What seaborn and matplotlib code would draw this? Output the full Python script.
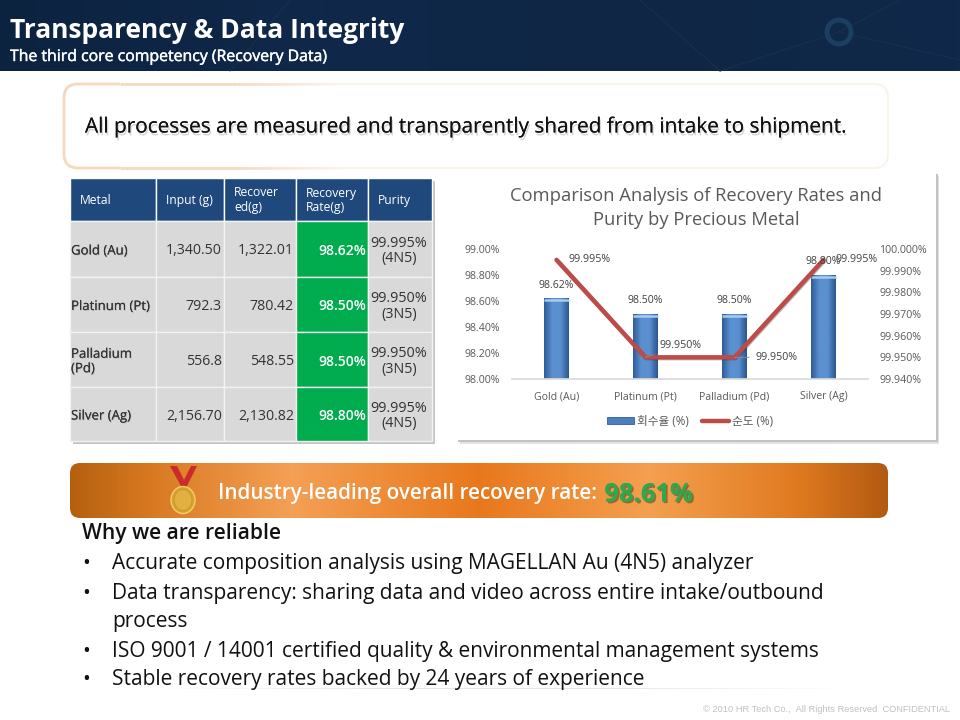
import numpy as np
import matplotlib
matplotlib.use('Agg')
import matplotlib.pyplot as plt
import matplotlib.patheffects as pe
from matplotlib.colors import LinearSegmentedColormap
from matplotlib.lines import Line2D
from matplotlib.patches import Circle, Ellipse, FancyBboxPatch, Patch, Polygon, Rectangle
from matplotlib.ticker import FormatStrFormatter
import seaborn as sns

# chart data
metals = ['Gold (Au)', 'Platinum (Pt)', 'Palladium (Pd)', 'Silver (Ag)']
recovery_rate = [98.62, 98.50, 98.50, 98.80]
purity = [99.995, 99.950, 99.950, 99.995]
rate_ticks = [98.0, 98.2, 98.4, 98.6, 98.8, 99.0]
purity_ticks = [99.94, 99.95, 99.96, 99.97, 99.98, 99.99, 100.0]
legend_labels = ['회수율 (%)', '순도 (%)']
chart_title = 'Comparison Analysis of Recovery Rates and\nPurity by Precious Metal'

# table data
table_header = ['Metal', 'Input (g)', 'Recover\ned(g)', 'Recovery\nRate(g)', 'Purity']
table_metals = ['Gold (Au)', 'Platinum (Pt)', 'Palladium\n(Pd)', 'Silver (Ag)']
table_input = ['1,340.50', '792.3', '556.8', '2,156.70']
table_recovered = ['1,322.01', '780.42', '548.55', '2,130.82']
table_rate = ['98.62%', '98.50%', '98.50%', '98.80%']
table_purity = ['99.995%\n(4N5)', '99.950%\n(3N5)', '99.950%\n(3N5)', '99.995%\n(4N5)']

# slide text
slide_title = 'Transparency & Data Integrity'
slide_subtitle = 'The third core competency (Recovery Data)'
callout = 'All processes are measured and transparently shared from intake to shipment.'
banner_text = 'Industry-leading overall recovery rate: '
banner_value = '98.61%'
reasons_title = 'Why we are reliable'
reasons = [
    'Accurate composition analysis using MAGELLAN Au (4N5) analyzer',
    'Data transparency: sharing data and video across entire intake/outbound\nprocess',
    'ISO 9001 / 14001 certified quality & environmental management systems',
    'Stable recovery rates backed by 24 years of experience',
]
footer = '© 2010 HR Tech Co.,  All Rights Reserved  CONFIDENTIAL'

sns.set_theme(style='white')
plt.rcParams['font.family'] = ['Open Sans', 'Noto Sans CJK KR', 'DejaVu Sans']

fig = plt.figure(figsize=(9.6, 7.2), dpi=100)

# whole slide is drawn on an axes that counts in pixels
bg = fig.add_axes([0, 0, 1, 1], zorder=0)
bg.set_xlim(0, 960)
bg.set_ylim(720, 0)
bg.axis('off')


def gradient(colors, extent, clip=None, zorder=1):
    cmap = LinearSegmentedColormap.from_list('g', colors)
    g = np.linspace(0, 1, 512).reshape(1, -1)
    im = bg.imshow(g, cmap=cmap, extent=extent, aspect='auto', zorder=zorder)
    if clip is not None:
        im.set_clip_path(clip)
    return im


# header band
gradient(['#0c2340', '#10284a', '#0f2744', '#10294a'], (0, 960, 71, 0))
bg.add_patch(Circle((839, 32), 12, fill=False, ec='#1b3f60', lw=3.5, zorder=2))
for x0, y0, x1, y1 in [(640, 0, 720, 71), (720, 71, 839, 32), (839, 32, 900, 0), (839, 32, 960, 60), (230, 71, 290, 0)]:
    bg.plot([x0, x1], [y0, y1], color='#17304f', lw=0.8, zorder=1.5)
bg.text(10, 30, slide_title, color='white', fontsize=19, fontweight='bold', va='center', zorder=3)
bg.text(10, 57, slide_subtitle, color='white', fontsize=11.4, va='center', zorder=3,
        path_effects=[pe.Stroke(linewidth=0.3, foreground='white'), pe.Normal()])

# callout box, the orange edge fades out towards the middle
bg.add_patch(FancyBboxPatch((64, 84), 824, 84, boxstyle='round,pad=0,rounding_size=14',
                            fc='white', ec='#fbf4ec', lw=1.5, zorder=1))
edge = FancyBboxPatch((64, 84), 824, 84, boxstyle='round,pad=0,rounding_size=14',
                      fc='none', ec='#f6d8bd', lw=2, zorder=2)
bg.add_patch(edge)
edge.set_clip_path(Rectangle((60, 80), 60, 95, transform=bg.transData))
for x in range(120, 340, 4):
    fade = min(1, 1 - (x - 230) / 110)
    for y in (84, 168):
        bg.plot([x, x + 4], [y, y], color='#f6d8bd', alpha=fade, lw=2, solid_capstyle='butt', zorder=2)
bg.text(85, 127, callout, color='#111111', fontsize=14.95, va='center', zorder=3,
        path_effects=[pe.withSimplePatchShadow(offset=(1, -2), shadow_rgbFace='#999999', alpha=0.4), pe.Normal()])

# table
col_edges = [70, 156, 224, 296, 368, 432]
row_edges = [178, 221, 277, 332, 387, 441]
bg.add_patch(Rectangle((73, 181), 362, 263, fc='#c4c4c4', ec='none', zorder=1))
rows = list(zip(table_metals, table_input, table_recovered, table_rate, table_purity))
for c in range(5):
    x0, x1 = col_edges[c], col_edges[c + 1]
    bg.add_patch(Rectangle((x0, row_edges[0]), x1 - x0, row_edges[1] - row_edges[0],
                           fc='#1f497d', ec='white', lw=1, zorder=2))
    bg.text(x0 + 10, (row_edges[0] + row_edges[1]) / 2 + 1, table_header[c], color='white',
            fontsize=8.7, va='center', ha='left', linespacing=1.2, zorder=3)
    for r, row in enumerate(rows):
        y0, y1 = row_edges[r + 1], row_edges[r + 2]
        bg.add_patch(Rectangle((x0, y0), x1 - x0, y1 - y0, fc='#00ac4e' if c == 3 else '#d9d9d9',
                               ec='#f2f2f2', lw=1, zorder=2))
        ym = (y0 + y1) / 2 + 2
        if c == 0:
            bg.text(x0 + 1, ym, row[c], color='#333333', fontsize=9.5, va='center', ha='left', zorder=3,
                    linespacing=1.15,
                    path_effects=[pe.withSimplePatchShadow(offset=(0.6, -0.6), shadow_rgbFace='#999999', alpha=0.4), pe.Normal()])
        elif c == 4:
            bg.text((x0 + x1) / 2 - 1, ym, row[c], color='#333333', fontsize=10.4, va='center', ha='center',
                    linespacing=1.05, zorder=3)
        else:
            bg.text(x1 - 2, ym, row[c], color='white' if c == 3 else '#333333',
                    fontsize=10 if c == 3 else 10.2,
                    fontweight='semibold' if c == 3 else 'normal', va='center', ha='right', zorder=3)

# chart panel with a soft shadow
bg.add_patch(Rectangle((460, 176), 479, 268, fc='#e2e2e2', ec='none', zorder=1))
bg.add_patch(Rectangle((458, 174), 480, 268, fc='#c2c2c2', ec='none', zorder=1.2))
bg.add_patch(Rectangle((456, 172), 480, 268, fc='white', ec='none', zorder=2))

ax = fig.add_axes([512 / 960, 1 - 379 / 720, 356 / 960, 130 / 720], zorder=2)
ax.patch.set_alpha(0)
sns.barplot(x=metals, y=recovery_rate, ax=ax, color='#4a7fc0', width=0.28, saturation=1)
bar_cmap = LinearSegmentedColormap.from_list('bar', ['#2f5c97', '#5b90d0', '#5b90d0', '#2a568f'])
for bar in ax.patches:
    x, w, h = bar.get_x(), bar.get_width(), bar.get_height()
    ax.imshow(np.linspace(0, 1, 64).reshape(1, -1), cmap=bar_cmap, aspect='auto', zorder=2,
              extent=(x, x + w, rate_ticks[0], h))
    ax.plot([x, x + w], [h - 0.012, h - 0.012], color='#a6cbf0', lw=1.8, zorder=2.2, solid_capstyle='butt')
ax.set_xlim(-0.5, 3.5)
ax.set_ylim(rate_ticks[0], rate_ticks[-1])

ax.set_yticks(rate_ticks)
ax.yaxis.set_major_formatter(FormatStrFormatter('%.2f%%'))
ax.tick_params(axis='both', labelsize=7.6, labelcolor='#595959', length=0)
ax.tick_params(axis='y', pad=8.5)
ax.tick_params(axis='x', pad=9)
for s in ['top', 'left', 'right']:
    ax.spines[s].set_visible(False)
ax.spines['bottom'].set_color('#d9d9d9')
ax.set_title(chart_title, x=0.517, y=1.0, pad=17, fontsize=13.2, color='#595959', linespacing=1.48)

ax2 = ax.twinx()
ax2.patch.set_alpha(0)
sns.lineplot(x=metals, y=purity, ax=ax2, color='#be4b48', lw=3.2, sort=False, errorbar=None,
             path_effects=[pe.SimpleLineShadow(offset=(0.6, -0.6), alpha=0.3), pe.Normal()])
ax2.set_ylim(purity_ticks[0], purity_ticks[-1])
ax2.set_yticks(purity_ticks)
ax2.yaxis.set_major_formatter(FormatStrFormatter('%.3f%%'))
ax2.tick_params(axis='y', labelsize=7.7, labelcolor='#595959', length=0, pad=8)
ax2.set_ylabel('')
for s in ['top', 'left', 'right', 'bottom']:
    ax2.spines[s].set_visible(False)

# value labels, offsets in points from the marks
for i, v in enumerate(recovery_rate):
    ax2.annotate(f'{v:.2f}%', xy=(i, ax2.transData.inverted().transform(ax.transData.transform((i, v)))[1]),
                 xytext=(0, 9.5), textcoords='offset points', ha='center', va='center',
                 fontsize=7.6, color='#404040', zorder=5)
purity_offsets = [(24, 0), (25, 8.5), (30, 0), (24, 0)]
for i, v in enumerate(purity):
    leader = i in (1, 2)
    ax2.annotate(f'{v:.3f}%', xy=(i, v), xytext=purity_offsets[i], textcoords='offset points',
                 ha='center', va='center', fontsize=7.7, color='#404040', zorder=5,
                 arrowprops=dict(arrowstyle='-', color='#8c8c8c', lw=0.7, shrinkA=2, shrinkB=0) if leader else None)

handles = [Patch(fc='#4a7fc0', ec='#2f5c97', lw=0.6),
           Line2D([0], [0], color='#be4b48', lw=3.2)]
leg = ax2.legend(handles, legend_labels, loc='center', bbox_to_anchor=(0.5, -0.325), ncol=2, frameon=False,
                 fontsize=8.4, handlelength=2.3, handleheight=0.5, columnspacing=1.1, handletextpad=0.25)
for t in leg.get_texts():
    t.set_color('#595959')

# orange banner
banner = FancyBboxPatch((70, 463), 818, 55, boxstyle='round,pad=0,rounding_size=10', fc='none', ec='none',
                        transform=bg.transData, zorder=1)
bg.add_patch(banner)
gradient([(0, '#b5600f'), (0.1, '#d97a22'), (0.27, '#f4a055'), (0.5, '#e8781c'), (0.71, '#f4a050'),
          (0.89, '#e07a20'), (1, '#b25a12')], (70, 888, 518, 463), clip=banner, zorder=2)
bg.add_patch(Polygon([(170, 466), (177, 466), (184, 480), (191, 466), (197, 466), (186, 488), (182, 488)],
                     fc='#cc2b2b', ec='none', zorder=3))
bg.add_patch(Ellipse((183, 500), 24, 27, fc='#d9a32e', ec='#f1cf6a', lw=1, zorder=4))
bg.add_patch(Ellipse((183, 500), 18, 21, fc='#e2b040', ec='#c49722', lw=0.6, zorder=5))
t1 = bg.text(218, 494, banner_text, color='white', fontsize=14.9, fontweight='semibold', va='center', zorder=6)
fig.canvas.draw()
bb = t1.get_window_extent()
bg.text(bb.x1 + 2, 494, banner_value, color='#2fa84f', fontsize=18.4, fontweight='bold', va='center', zorder=6,
        path_effects=[pe.withSimplePatchShadow(offset=(1.2, -1.2), shadow_rgbFace='#5c4a1c', alpha=0.6), pe.Normal()])

# reasons list
bg.text(82, 533, reasons_title, color='#111111', fontsize=15.1, fontweight='semibold', va='center', zorder=3)
line_ys = iter([563, 593, 621, 651, 679])
for txt in reasons:
    for n, line in enumerate(txt.split('\n')):
        y = next(line_ys)
        if n == 0:
            bg.text(82, y, '•', color='#111111', fontsize=15, va='center', zorder=3)
        bg.text(112, y, line, color='#111111', fontsize=15, va='center', zorder=3)

# footer
gradient(['#ffffff', '#e6e6e6', '#e6e6e6', '#ffffff'], (150, 850, 689, 688))
bg.text(950, 710, footer, color='#c0c0c0', fontsize=6.7, family='Liberation Sans', ha='right', va='center', zorder=3)

bg.set_xlim(0, 960)
bg.set_ylim(720, 0)

fig.savefig('out.png', dpi=100)
